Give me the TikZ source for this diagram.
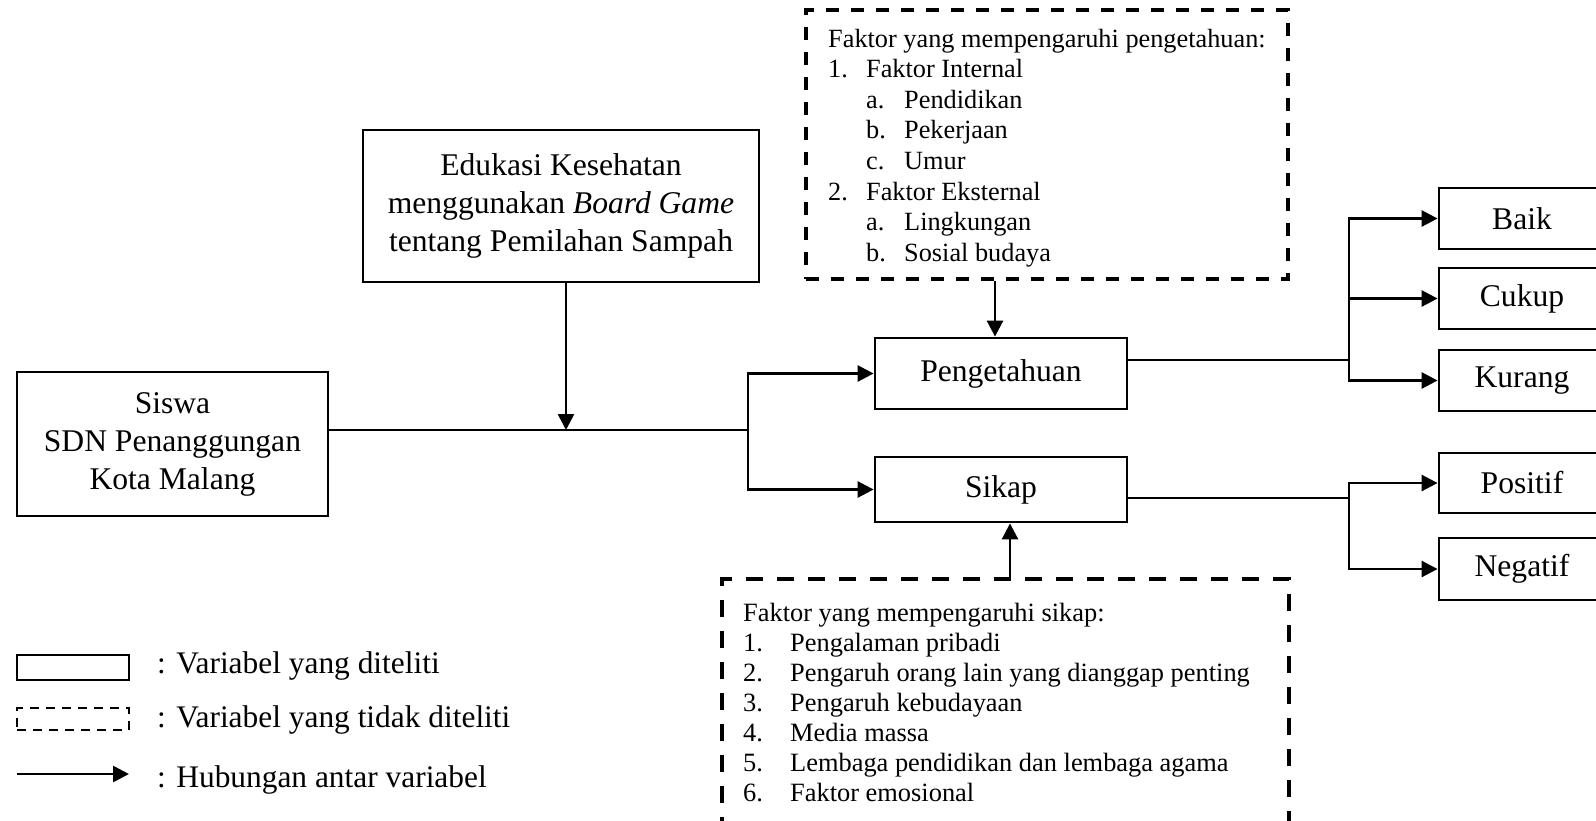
\documentclass[tikz,border=0pt]{standalone}
\usepackage{fontspec}
\setmainfont{Liberation Serif}
\usetikzlibrary{arrows.meta}
\begin{document}
\begin{tikzpicture}[x=1pt,y=-1pt,
  box/.style={draw, line width=2.8pt, inner sep=0pt, align=center, font=\fontsize{31.6}{38}\selectfont},
  dbox/.style={draw, line width=3.5pt, dash pattern=on 13pt off 12pt, inner sep=0pt},
  conn/.style={line width=2.7pt},
  arr/.style={conn, -{Triangle[length=16pt,width=16pt]}},
  ftxt/.style={inner sep=0pt, anchor=base west, font=\fontsize{26.3}{30.6}\selectfont},
  ltxt/.style={inner sep=0pt, anchor=base west, font=\fontsize{31.4}{38}\selectfont}]
\useasboundingbox (0,0) rectangle (1596,820);
\clip (0,0) rectangle (1596,820);

% main boxes
\node[box, minimum width=311pt, minimum height=144pt] (siswa) at (172.5,444) {Siswa\\SDN Penanggungan\\Kota Malang};
\node[box, minimum width=396pt, minimum height=152pt] (edu) at (561,206) {Edukasi Kesehatan\\menggunakan \textit{Board Game}\\tentang Pemilahan Sampah};
\node[box, minimum width=252pt, minimum height=71pt] (peng) at (1001,373.5) {Pengetahuan};
\node[box, minimum width=252pt, minimum height=65pt] (sikap) at (1001,489.5) {Sikap};
\node[box, minimum width=166pt, minimum height=61pt] (baik) at (1522,218.5) {Baik};
\node[box, minimum width=166pt, minimum height=61pt] (cukup) at (1522,298.5) {Cukup};
\node[box, minimum width=166pt, minimum height=61pt] (kurang) at (1522,380.5) {Kurang};
\node[box, minimum width=166pt, minimum height=60pt] (positif) at (1522,483) {Positif};
\node[box, minimum width=166pt, minimum height=62pt] (negatif) at (1522,569) {Negatif};

% dashed boxes
\node[dbox, minimum width=482pt, minimum height=269pt] (fp) at (1047,144.5) {};
\node[dbox, dash pattern=on 17pt off 14pt, minimum width=567pt, minimum height=271pt] (fs) at (1005.5,714.5) {};

\node[ftxt] (fptxt) at (828,47) {\begin{tabular}[t]{@{}l@{}}
Faktor yang mempengaruhi pengetahuan:\\
\makebox[38pt][l]{1.}Faktor Internal\\
\hspace*{38pt}\makebox[38pt][l]{a.}Pendidikan\\
\hspace*{38pt}\makebox[38pt][l]{b.}Pekerjaan\\
\hspace*{38pt}\makebox[38pt][l]{c.}Umur\\
\makebox[38pt][l]{2.}Faktor Eksternal\\
\hspace*{38pt}\makebox[38pt][l]{a.}Lingkungan\\
\hspace*{38pt}\makebox[38pt][l]{b.}Sosial budaya
\end{tabular}};

\node[ftxt, font=\fontsize{26.4}{30}\selectfont] (fstxt) at (743,621.7) {\begin{tabular}[t]{@{}l@{}}
Faktor yang mempengaruhi sikap:\\
\makebox[47pt][l]{1.}Pengalaman pribadi\\
\makebox[47pt][l]{2.}Pengaruh orang lain yang dianggap penting\\
\makebox[47pt][l]{3.}Pengaruh kebudayaan\\
\makebox[47pt][l]{4.}Media massa\\
\makebox[47pt][l]{5.}Lembaga pendidikan dan lembaga agama\\
\makebox[47pt][l]{6.}Faktor emosional
\end{tabular}};

% connectors
\coordinate (j1) at (566,430);
\coordinate (j2) at (748,430);
\draw[conn] (siswa.east |- j2) -- (j2);
\draw[arr] (edu.south -| j1) -- (j1);
\draw[arr] (j2) |- (peng.west);
\draw[arr] (j2) |- (sikap.west);
\coordinate (ta) at (995,0);
\coordinate (tb) at (1010,0);
\draw[arr] (fp.south -| ta) -- (peng.north -| ta);
\draw[arr] (fs.north -| tb) -- (sikap.south -| tb);
\coordinate (jp) at (1349,360);
\coordinate (js) at (1349,498);
\draw[conn] (peng.east |- jp) -- (jp);
\draw[arr] (jp) |- (baik.west);
\draw[arr] (jp) |- (kurang.west);
\draw[arr] (jp |- cukup.west) -- (cukup.west);
\draw[conn] (sikap.east |- js) -- (js);
\draw[arr] (js) |- (positif.west);
\draw[arr] (js) |- (negatif.west);

% legend
\node[draw, line width=2.8pt, minimum width=112pt, minimum height=25pt, inner sep=0pt] (lg1) at (73,667.5) {};
\node[draw, line width=2.2pt, dash pattern=on 9pt off 7pt, minimum width=112pt, minimum height=22pt, inner sep=0pt] (lg2) at (73,719) {};
\coordinate (la) at (17,774);
\coordinate (lb) at (129,774);
\draw[arr] (la) -- (lb);
\node[ltxt] (lt1) at (157,673) {: Variabel yang diteliti};
\node[ltxt] (lt2) at (157,727) {: Variabel yang tidak diteliti};
\node[ltxt] (lt3) at (157,787) {: Hubungan antar variabel};
\end{tikzpicture}
\end{document}
